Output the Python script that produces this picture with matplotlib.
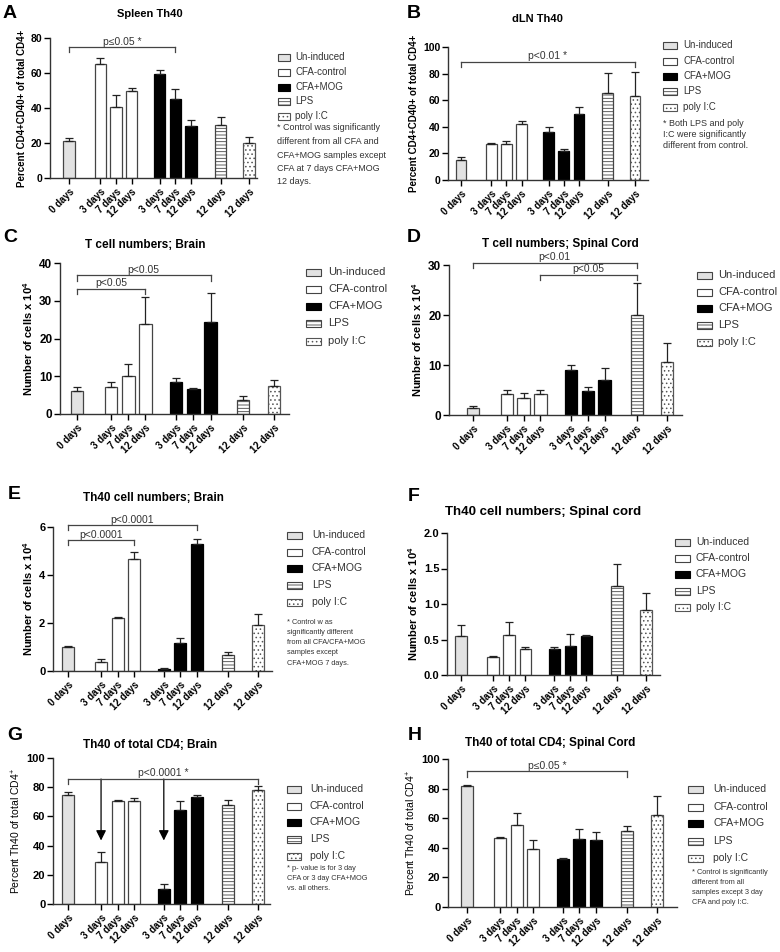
import matplotlib
matplotlib.use('Agg')
import matplotlib.pyplot as plt
from matplotlib.patches import Rectangle
from matplotlib.ticker import FormatStrFormatter
import numpy as np

plt.rcParams['font.family'] = ['Liberation Sans', 'DejaVu Sans']
plt.rcParams['mathtext.fontset'] = 'custom'
plt.rcParams['mathtext.rm'] = 'Liberation Sans'
plt.rcParams['mathtext.bf'] = 'Liberation Sans:bold'
plt.rcParams['hatch.linewidth'] = 0.6

W, H = 780, 952

# data
tick_labels = ['0 days', '3 days', '7 days', '12 days', '3 days', '7 days', '12 days', '12 days', '12 days']
groups = ['Un-induced', 'CFA-control', 'CFA-control', 'CFA-control',
          'CFA+MOG', 'CFA+MOG', 'CFA+MOG', 'LPS', 'poly I:C']
legend_labels = ['Un-induced', 'CFA-control', 'CFA+MOG', 'LPS', 'poly I:C']

spleen_mean = [21, 65, 40.5, 50, 59.5, 45, 30, 30.5, 20]
spleen_err = [2, 3.5, 7, 1.5, 2.5, 6, 3, 4.5, 3.5]
dln_mean = [15, 27, 27, 42, 36, 22, 50, 65.5, 63]
dln_err = [2, 1, 2.5, 2, 4, 1, 5, 15, 18.5]
tcell_brain_mean = [6, 7.2, 10, 23.8, 8.6, 6.7, 24.5, 3.8, 7.4]
tcell_brain_err = [1.2, 1.2, 3.3, 7.2, 1, 0.3, 7.6, 0.9, 1.6]
tcell_sc_mean = [1.5, 4.2, 3.5, 4.3, 9.1, 4.8, 7, 20.1, 10.6]
tcell_sc_err = [0.3, 0.9, 0.9, 0.7, 0.9, 0.9, 2.4, 6.3, 3.9]
th40_brain_mean = [1.0, 0.37, 2.2, 4.67, 0.1, 1.15, 5.3, 0.68, 1.9]
th40_brain_err = [0.03, 0.13, 0.03, 0.3, 0.03, 0.22, 0.22, 0.12, 0.47]
th40_sc_mean = [0.55, 0.26, 0.56, 0.37, 0.37, 0.41, 0.55, 1.25, 0.92]
th40_sc_err = [0.16, 0.01, 0.18, 0.03, 0.03, 0.17, 0.01, 0.31, 0.24]
pct_brain_mean = [75, 28.5, 70.5, 70.5, 10.5, 64.5, 73, 67.5, 78]
pct_brain_err = [2, 7, 1, 2, 3, 6, 2, 3.5, 3]
pct_sc_mean = [82, 46.5, 55.5, 39.5, 32.5, 46, 45, 51.5, 62.5]
pct_sc_err = [0.5, 0.7, 8, 6, 0.7, 6.5, 6, 3.5, 12.5]

pos = [0, 2, 3, 4, 5.8, 6.8, 7.8, 9.7, 11.5]

styles = {
    'Un-induced': dict(facecolor='#e2e2e2', edgecolor='#444444', hatch=None),
    'CFA-control': dict(facecolor='white', edgecolor='#444444', hatch=None),
    'CFA+MOG': dict(facecolor='black', edgecolor='black', hatch=None),
    'LPS': dict(facecolor='white', edgecolor='#444444', hatch='-----'),
    'poly I:C': dict(facecolor='white', edgecolor='#555555', hatch='....'),
}

panels = [
    dict(letter='A', lpos=(3, 13), title='Spleen Th40', tpos=(150, 14), tfs=8,
         box=(50, 38, 257, 178), xlim=(-1.21, 12.01), ylim=(0, 80), yticks=np.arange(0, 81, 20),
         mean=spleen_mean, err=spleen_err, ylabel='Percent CD4+CD40+ of total CD4+', ylw='bold', ylfs=7,
         yfs=7.5, sig=[(0, 5, 74.7, 'p≤0.05 *')],
         leg=dict(sx=278, w=12, tx=295, rows=[57, 72, 87, 101, 116], fs=7),
         note=dict(x=277, y0=128, step=13.5, fs=6.5,
                   lines=['* Control was significantly', 'different from all CFA and',
                          'CFA+MOG samples except', 'CFA at 7 days CFA+MOG', '12 days.'])),
    dict(letter='B', lpos=(407, 14), title='dLN Th40', tpos=(537, 19), tfs=8,
         box=(448, 47, 648, 180), xlim=(-0.86, 12.36), ylim=(0, 100), yticks=np.arange(0, 101, 20),
         mean=dln_mean, err=dln_err, ylabel='Percent CD4+CD40+ of total CD4+', ylw='bold', ylfs=7,
         yfs=7.5, sig=[(0, 8, 88.75, 'p<0.01 *')],
         leg=dict(sx=663, w=14, tx=683, rows=[45, 61, 76, 91, 107], fs=7),
         note=dict(x=663, y0=123, step=11.5, fs=6.5,
                   lines=['* Both LPS and poly', 'I:C were significantly', 'different from control.'])),
    dict(letter='C', lpos=(3, 238), title='T cell numbers; Brain', tpos=(145, 245), tfs=8.5,
         box=(60, 263, 289, 414), xlim=(-0.99, 12.38), ylim=(0, 40), yticks=np.arange(0, 41, 10),
         mean=tcell_brain_mean, err=tcell_brain_err, ylabel='Number of cells x $\\mathbf{10^4}$',
         ylw='bold', ylfs=8, yfs=8.5, sig=[(0, 6, 36.7, 'p<0.05'), (0, 3, 33.1, 'p<0.05')],
         leg=dict(sx=306, w=15, tx=328, rows=[272, 289, 306, 323, 341], fs=8), note=None),
    dict(letter='D', lpos=(407, 238), title='T cell numbers; Spinal Cord', tpos=(560, 244), tfs=8.5,
         box=(449, 265, 682, 415), xlim=(-1.42, 12.39), ylim=(0, 30), yticks=np.arange(0, 31, 10),
         mean=tcell_sc_mean, err=tcell_sc_err, ylabel='Number of cells x $\\mathbf{10^4}$',
         ylw='bold', ylfs=8, yfs=8.5, sig=[(0, 7, 30.5, 'p<0.01'), (3, 7, 28, 'p<0.05')],
         leg=dict(sx=697, w=15, tx=718, rows=[275, 292, 308, 325, 342], fs=8), note=None),
    dict(letter='E', lpos=(8, 494), title='Th40 cell numbers; Brain', tpos=(153, 498), tfs=8.5,
         box=(53, 527, 272, 671), xlim=(-0.91, 12.35), ylim=(0, 6), yticks=np.arange(0, 7, 2),
         mean=th40_brain_mean, err=th40_brain_err, ylabel='Number of cells x $\\mathbf{10^4}$',
         ylw='bold', ylfs=8, yfs=8, sig=[(0, 6, 6.07, 'p<0.0001'), (0, 3, 5.44, 'p<0.0001')],
         leg=dict(sx=287, w=15, tx=312, rows=[535, 552, 568, 585, 602], fs=7.5),
         note=dict(x=287, y0=622, step=10.3, fs=5.3,
                   lines=['* Control w as', 'significantly different', 'from all CFA/CFA+MOG',
                          'samples except', 'CFA+MOG 7 days.'])),
    dict(letter='F', lpos=(408, 496), title='Th40 cell numbers; Spinal cord', tpos=(543, 512), tfs=9.5,
         box=(447, 533, 660, 675), xlim=(-0.87, 12.37), ylim=(0, 2), yticks=np.arange(0, 2.01, 0.5),
         mean=th40_sc_mean, err=th40_sc_err, ylabel='Number of cells x $\\mathbf{10^4}$',
         ylw='bold', ylfs=8, yfs=8, sig=[],
         leg=dict(sx=675, w=15, tx=696, rows=[542, 558, 574, 591, 607], fs=7.5), note=None),
    dict(letter='G', lpos=(7, 735), title='Th40 of total CD4; Brain', tpos=(150, 745), tfs=8.5,
         box=(53, 758, 270, 904), xlim=(-0.91, 12.23), ylim=(0, 100), yticks=np.arange(0, 101, 20),
         mean=pct_brain_mean, err=pct_brain_err, ylabel='Percent Th40 of total CD4$^{+}$',
         ylw='normal', ylfs=7.5, yfs=8, sig=[(0, 8, 85.6, 'p<0.0001 *')],
         leg=dict(sx=287, w=14, tx=310, rows=[789, 806, 822, 839, 856], fs=7.5),
         note=dict(x=287, y0=868, step=10.5, fs=5.3,
                   lines=['* p- value is for 3 day', 'CFA or 3 day CFA+MOG', 'vs. all others.'])),
    dict(letter='H', lpos=(408, 735), title='Th40 of total CD4; Spinal Cord', tpos=(550, 743), tfs=8.5,
         box=(448, 759, 677, 907), xlim=(-1.15, 12.71), ylim=(0, 100), yticks=np.arange(0, 101, 20),
         mean=pct_sc_mean, err=pct_sc_err, ylabel='Percent Th40 of total CD4$^{+}$',
         ylw='normal', ylfs=7.5, yfs=8, sig=[(0, 7, 91.6, 'p≤0.05 *')],
         leg=dict(sx=688, w=15, tx=713, rows=[789, 807, 823, 841, 858], fs=7.5),
         note=dict(x=692, y0=873, step=10, fs=5.3,
                   lines=['* Control is significantly', 'different from all',
                          'samples except 3 day', 'CFA and poly I:C.'])),
]

fig = plt.figure(figsize=(W / 100, H / 100), dpi=100)
fig.patch.set_facecolor('white')

for p in panels:
    l, t, r, b = p['box']
    ax = fig.add_axes([l / W, 1 - b / H, (r - l) / W, (b - t) / H])
    for i in range(len(pos)):
        st = styles[groups[i]]
        ax.bar(pos[i], p['mean'][i], width=0.72, facecolor=st['facecolor'],
               edgecolor=st['edgecolor'], hatch=st['hatch'], linewidth=0.9, zorder=2)
    ax.errorbar(pos, p['mean'], yerr=[np.zeros(len(pos)), p['err']], fmt='none',
                ecolor='#222222', elinewidth=0.9, capsize=3, capthick=0.9, zorder=3)
    ax.set_xlim(*p['xlim'])
    ax.set_ylim(*p['ylim'])
    ax.set_yticks(p['yticks'])
    if p['letter'] == 'F':
        ax.yaxis.set_major_formatter(FormatStrFormatter('%.1f'))
    ax.set_xticks(pos)
    ax.set_xticklabels(tick_labels, rotation=45, ha='right', rotation_mode='anchor',
                       fontweight='bold', fontsize=7)
    for lbl in ax.get_yticklabels():
        lbl.set_fontweight('bold')
    ax.tick_params(axis='y', direction='out', length=4, width=1, labelsize=p['yfs'], pad=1.5)
    ax.tick_params(axis='x', direction='out', length=4, width=1, pad=2)
    for s in ['top', 'right']:
        ax.spines[s].set_visible(False)
    for s in ['left', 'bottom']:
        ax.spines[s].set_linewidth(1)
        ax.spines[s].set_color('#333333')
    ax.set_ylabel(p['ylabel'], fontsize=p['ylfs'], fontweight=p['ylw'], labelpad=3)

    span = p['ylim'][1] - p['ylim'][0]
    for i0, i1, y, txt in p['sig']:
        x0, x1 = pos[i0], pos[i1]
        ax.plot([x0, x1], [y, y], color='#444444', lw=0.9, clip_on=False, zorder=4)
        for xx in (x0, x1):
            ax.plot([xx, xx], [y, y - span * 0.035], color='#444444', lw=0.9, clip_on=False, zorder=4)
        ax.text((x0 + x1) / 2, y + span * 0.005, txt, ha='center', va='bottom',
                fontsize=7.5, color='#333333', clip_on=False)

    if p['letter'] == 'G':
        for i in (1, 4):
            ax.annotate('', xy=(pos[i], 43.5), xytext=(pos[i], 85.6),
                        arrowprops=dict(arrowstyle='-|>,head_length=0.6,head_width=0.3',
                                        color='black', lw=0.9, shrinkA=0, shrinkB=0))

    fig.text(p['lpos'][0] / W, 1 - p['lpos'][1] / H, p['letter'], fontsize=14,
             fontweight='bold', ha='left', va='center')
    fig.text(p['tpos'][0] / W, 1 - p['tpos'][1] / H, p['title'], fontsize=p['tfs'],
             fontweight='bold', ha='center', va='center')

    lg = p['leg']
    sh = 7
    for lab, ry in zip(legend_labels, lg['rows']):
        st = styles[lab]
        rect = Rectangle((lg['sx'] / W, 1 - (ry + sh / 2) / H), lg['w'] / W, sh / H,
                         transform=fig.transFigure, facecolor=st['facecolor'],
                         edgecolor=st['edgecolor'], hatch=st['hatch'], linewidth=0.8)
        fig.add_artist(rect)
        fig.text(lg['tx'] / W, 1 - ry / H, lab, fontsize=lg['fs'], color='#333333',
                 ha='left', va='center')

    nt = p['note']
    if nt:
        for k, line in enumerate(nt['lines']):
            fig.text(nt['x'] / W, 1 - (nt['y0'] + k * nt['step']) / H, line,
                     fontsize=nt['fs'], color='#333333', ha='left', va='center')

fig.savefig('out.png', dpi=100, facecolor='white')
